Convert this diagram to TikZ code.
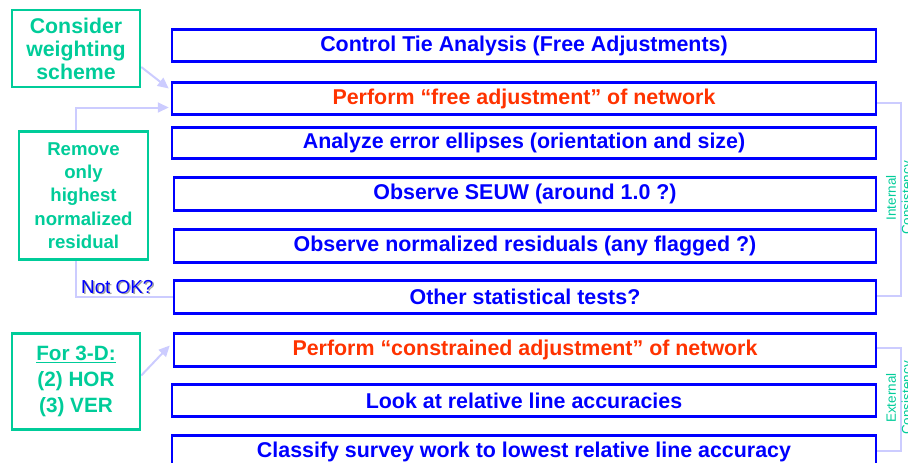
\documentclass[tikz,border=0pt]{standalone}
\usepackage{fontspec}
\setmainfont{Liberation Sans}
\usetikzlibrary{arrows.meta,backgrounds}
\definecolor{bblue}{HTML}{0000FF}
\definecolor{rred}{HTML}{FF3300}
\definecolor{ggreen}{HTML}{00CC99}
\definecolor{lav}{HTML}{CCCCFF}
\tikzset{
  stepbox/.style={draw=bblue, line width=2.5pt, inner sep=0pt, minimum width=704pt, minimum height=32pt, text=bblue, font=\fontsize{21.4}{24}\selectfont\bfseries},
  notebox/.style={draw=ggreen, line width=2.5pt, inner sep=0pt, text=ggreen, align=center},
  conn/.style={draw=lav, line width=2pt},
  arr/.style={conn, -{Triangle[length=11pt,width=10pt]}},
  sidelabel/.style={text=ggreen, rotate=90, align=center, font=\fontsize{13.5}{15.5}\selectfont, inner sep=0pt}
}
\begin{document}
\begin{tikzpicture}[x=1pt,y=-1pt]
\useasboundingbox (0,0) rectangle (908,463);
\clip (0,0) rectangle (908,463);
\node[stepbox] (b1) at (524,45.5) {Control Tie Analysis (Free Adjustments)};
\node[stepbox, text=rred] (b2) at (524,98.5) {Perform “free adjustment” of network};
\node[stepbox, minimum height=31pt] (b3) at (524,143) {Analyze error ellipses (orientation and size)};
\node[stepbox, minimum width=702pt, minimum height=33pt] (b4) at (525,194) {Observe SEUW (around 1.0 ?)};
\node[stepbox, minimum width=702pt, minimum height=33pt] (b5) at (525,246) {Observe normalized residuals (any flagged ?)};
\node[stepbox, minimum width=702pt, minimum height=33pt] (b6) at (525,297) {Other statistical tests?};
\node[stepbox, minimum width=702pt, minimum height=33pt, text=rred] (b7) at (525,350) {Perform “constrained adjustment” of network};
\node[stepbox] (b8) at (524,400.5) {Look at relative line accuracies};
\node[stepbox, minimum height=33pt] (b9) at (524,452) {Classify survey work to lowest relative line accuracy};

\node[notebox, minimum width=128pt, minimum height=77pt, font=\fontsize{21.3}{23}\selectfont\bfseries] (cons) at (76,48.5) {Consider\\weighting\\scheme};
\node[notebox, fill=white, minimum width=129pt, minimum height=128pt, font=\fontsize{18.6}{23.2}\selectfont\bfseries] (rem) at (83.5,195.5) {Remove\\only\\highest\\normalized\\residual};
\node[notebox, minimum width=128pt, minimum height=96pt, font=\fontsize{20.7}{26}\selectfont\bfseries] (fd) at (76,381.5) {\underline{For 3-D:}\\(2) HOR\\(3) VER};

\node[anchor=base west, text=gray!75, inner sep=0pt, font=\fontsize{18.8}{20}\selectfont] (notoksh) at (82.5,294.5) {Not OK?};
\node[anchor=base west, text=bblue, inner sep=0pt, font=\fontsize{18.8}{20}\selectfont] (notok) at (81,293) {Not OK?};

\node[sidelabel] (intl) at (900,198) {Internal\\Consistency};
\node[sidelabel] (extl) at (900,398) {External\\Consistency};

\begin{pgfonlayer}{background}
\draw[arr] ([yshift=-18.5pt]cons.east) -- ([yshift=10pt,xshift=-2pt]b2.west);
\draw[arr] (b6.west) -- ++(-97,0) |- ([yshift=-9pt,xshift=-2pt]b2.west);
\draw[arr] ([yshift=6pt]fd.east) -- ([yshift=4.5pt,xshift=-3pt]b7.west);
\draw[conn] ([yshift=-4pt]b2.east) -- ++(24,0) |- ([yshift=1.5pt]b6.east);
\draw[conn] ([yshift=2.5pt]b7.east) -- ++(24,0) |- ([yshift=1.5pt]b9.east);
\end{pgfonlayer}
\end{tikzpicture}
\end{document}
